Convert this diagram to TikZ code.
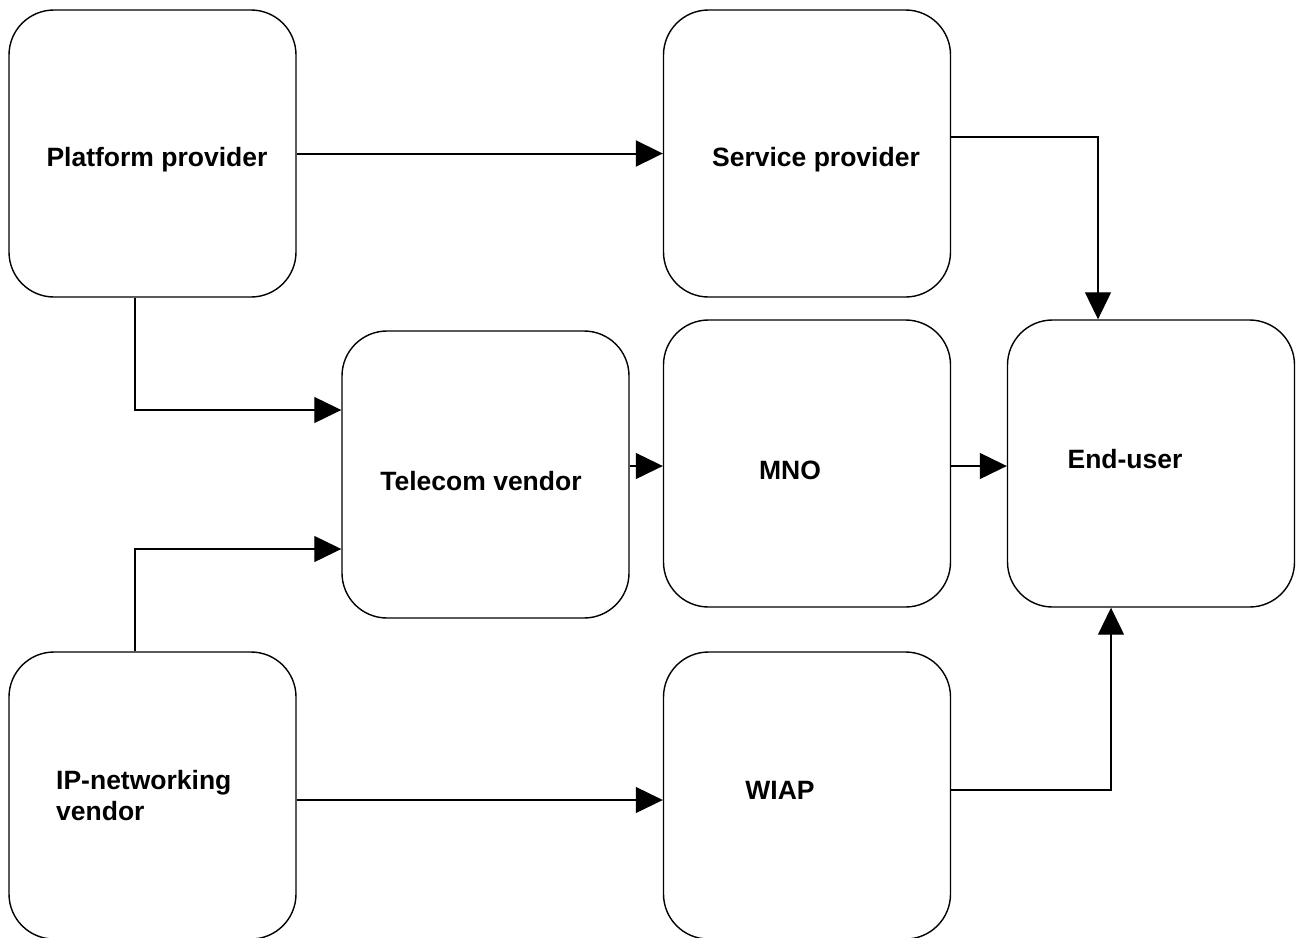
\documentclass[tikz,border=0pt]{standalone}
\usepackage{fontspec}
\setmainfont{Liberation Sans}
\usetikzlibrary{arrows.meta}

\begin{document}
\begin{tikzpicture}[x=1pt, y=-1pt, >={Triangle[length=27pt,width=26pt]},
  actor/.style={draw, line width=1.4pt, rounded corners=45pt, minimum width=287pt, minimum height=287pt, inner sep=0pt},
  lbl/.style={font=\fontsize{26.5}{31}\selectfont\bfseries},
  link/.style={->, line width=1.2pt}]
\useasboundingbox (0,0) rectangle (1297,937);
\clip (0,0) rectangle (1297,937);
% boxes
\node[actor] (pp)   at (152.5,153.5) {};
\node[actor] (sp)   at (807,153.5) {};
\node[actor] (tv)   at (485.5,474.5) {};
\node[actor] (mno)  at (807,463.5) {};
\node[actor] (eu)   at (1151,463.5) {};
\node[actor] (ip)   at (152.5,795.5) {};
\node[actor] (wiap) at (807,795.5) {};
% labels
\node[lbl] (ppl)  at (157,160) {Platform provider};
\node[lbl] (spl)  at (816,160) {Service provider};
\node[lbl] (tvl)  at (481,481) {Telecom vendor};
\node[lbl] (mnol) at (790,470) {MNO};
\node[lbl] (eul)  at (1125,459) {End-user};
\node[lbl, align=left, anchor=west, inner sep=0pt] (ipl) at (56,796) {IP-networking\\vendor};
\node[lbl] (wiapl) at (780,790) {WIAP};
% links
\draw[link, line width=2pt] (pp.east) -- (sp.west);
\draw[link] ([yshift=16.5pt]sp.east) -| ([xshift=-53pt]eu.north);
\draw[link] ([xshift=-17.5pt]pp.south) |- ([yshift=64.5pt]tv.west);
\draw[link] ([xshift=-17.5pt]ip.north) |- ([yshift=-74.5pt]tv.west);
\draw[link] ([yshift=8.5pt]tv.east) -- ([yshift=-2.5pt]mno.west);
\draw[link] ([yshift=-2.5pt]mno.east) -- ([yshift=-2.5pt]eu.west);
\draw[link] ([yshift=-4.5pt]ip.east) -- ([yshift=-4.5pt]wiap.west);
\draw[link] ([yshift=5.5pt]wiap.east) -| ([xshift=-40pt]eu.south);
\end{tikzpicture}
\end{document}
